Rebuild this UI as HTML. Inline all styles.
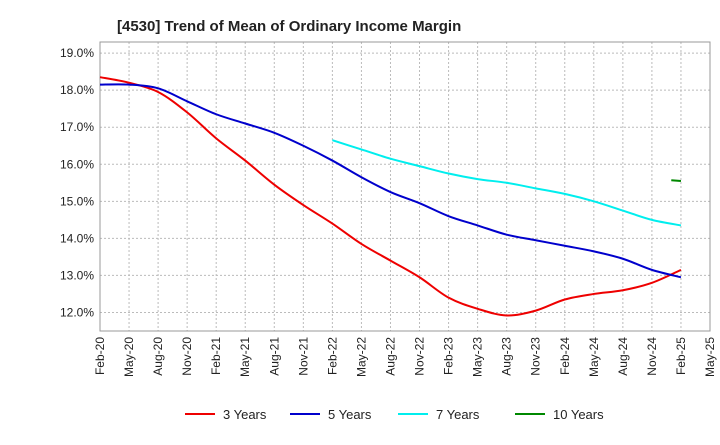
<!DOCTYPE html>
<html><head><meta charset="utf-8"><style>
body{margin:0;background:#fff;font-family:"Liberation Sans",sans-serif}
</style></head><body>
<svg id="chart" width="720" height="440" xmlns="http://www.w3.org/2000/svg">
<text x="117" y="31" font-size="15" font-weight="bold" fill="#222">[4530]  Trend of Mean of Ordinary Income Margin</text>
<g id="grid"></g><g id="axes"></g><g id="series"></g><g id="legend"></g>
</svg>
<script>
const xLabels=["Feb-20","May-20","Aug-20","Nov-20","Feb-21","May-21","Aug-21","Nov-21","Feb-22","May-22","Aug-22","Nov-22","Feb-23","May-23","Aug-23","Nov-23","Feb-24","May-24","Aug-24","Nov-24","Feb-25","May-25"];
const yTicks=[12,13,14,15,16,17,18,19];
const seriesNames=["3 Years","5 Years","7 Years","10 Years"];
const seriesColors=["#ee0000","#0000cc","#00eeee","#008800"];
// values by quarter index (month offset = 3*index from Feb-20)
const y3=[18.35,18.2,17.95,17.4,16.7,16.1,15.45,14.9,14.4,13.85,13.4,12.95,12.4,12.1,11.92,12.05,12.35,12.5,12.6,12.8,13.15];
const y5=[18.15,18.15,18.05,17.7,17.35,17.1,16.85,16.5,16.1,15.65,15.25,14.95,14.6,14.35,14.1,13.95,13.8,13.65,13.45,13.15,12.95];
const y7=[16.65,16.4,16.15,15.95,15.75,15.6,15.5,15.35,15.2,15.0,14.75,14.5,14.35];
const y7Start=8;
const y10=[15.57,15.55];
const y10StartMonth=59;
const L=100,R=710,T=42,B=331,yMin=11.5,yMax=19.3;
const xm=m=>L+(R-L)*m/63;
const ys=v=>B-(v-yMin)/(yMax-yMin)*(B-T);
const NS="http://www.w3.org/2000/svg";
function mk(tag,attrs,parent){const e=document.createElementNS(NS,tag);for(const k in attrs)e.setAttribute(k,attrs[k]);parent.appendChild(e);return e;}
const grid=document.getElementById('grid'),axes=document.getElementById('axes'),ser=document.getElementById('series'),leg=document.getElementById('legend');
yTicks.forEach(v=>{
 const l=mk('line',{x1:L,x2:R,y1:ys(v),y2:ys(v),stroke:'#bbb','stroke-dasharray':'2,2'},grid);
 
 
 const t=mk('text',{x:L-6,y:ys(v)+4,'text-anchor':'end','font-size':12,fill:'#222'},axes);
 t.textContent=v.toFixed(1)+'%';
 
 
});
xLabels.forEach((s,i)=>{
 const x=xm(i*3);
 const l=mk('line',{x1:x,x2:x,y1:T,y2:B,stroke:'#bbb','stroke-dasharray':'2,2'},grid);
 
 
 const t=mk('text',{x:x+4,y:B+6,'text-anchor':'end','font-size':12,fill:'#222',transform:`rotate(-90 ${x+4} ${B+6})`},axes);
 t.textContent=s;
 
 
});
const fr=mk('rect',{x:L,y:T,width:R-L,height:B-T,fill:'none',stroke:'#999'},axes);


function path(pts,color,name){
 let d='M'+pts[0][0]+','+pts[0][1];
 for(let i=1;i<pts.length;i++){
  const p0=pts[Math.max(i-2,0)],p1=pts[i-1],p2=pts[i],p3=pts[Math.min(i+1,pts.length-1)];
  d+=` C${p1[0]+(p2[0]-p0[0])/6},${p1[1]+(p2[1]-p0[1])/6} ${p2[0]-(p3[0]-p1[0])/6},${p2[1]-(p3[1]-p1[1])/6} ${p2[0]},${p2[1]}`;
 }
 const e=mk('path',{d:d,fill:'none',stroke:color,'stroke-width':2},ser);
 
 
}
path(y3.map((v,i)=>[xm(i*3),ys(v)]),seriesColors[0],'line-3-years');
path(y5.map((v,i)=>[xm(i*3),ys(v)]),seriesColors[1],'line-5-years');
path(y7.map((v,i)=>[xm((y7Start+i)*3),ys(v)]),seriesColors[2],'line-7-years');
path(y10.map((v,i)=>[xm(y10StartMonth+i),ys(v)]),seriesColors[3],'line-10-years');
const legX=[185,290,398,515];
seriesNames.forEach((n,i)=>{
 const g=mk('g',{},leg);
 
 
 mk('line',{x1:legX[i],x2:legX[i]+30,y1:414,y2:414,stroke:seriesColors[i],'stroke-width':2},g);
 const t=mk('text',{x:legX[i]+38,y:419,'font-size':13,fill:'#222'},g);
 t.textContent=n;
});
</script>
</body></html>
